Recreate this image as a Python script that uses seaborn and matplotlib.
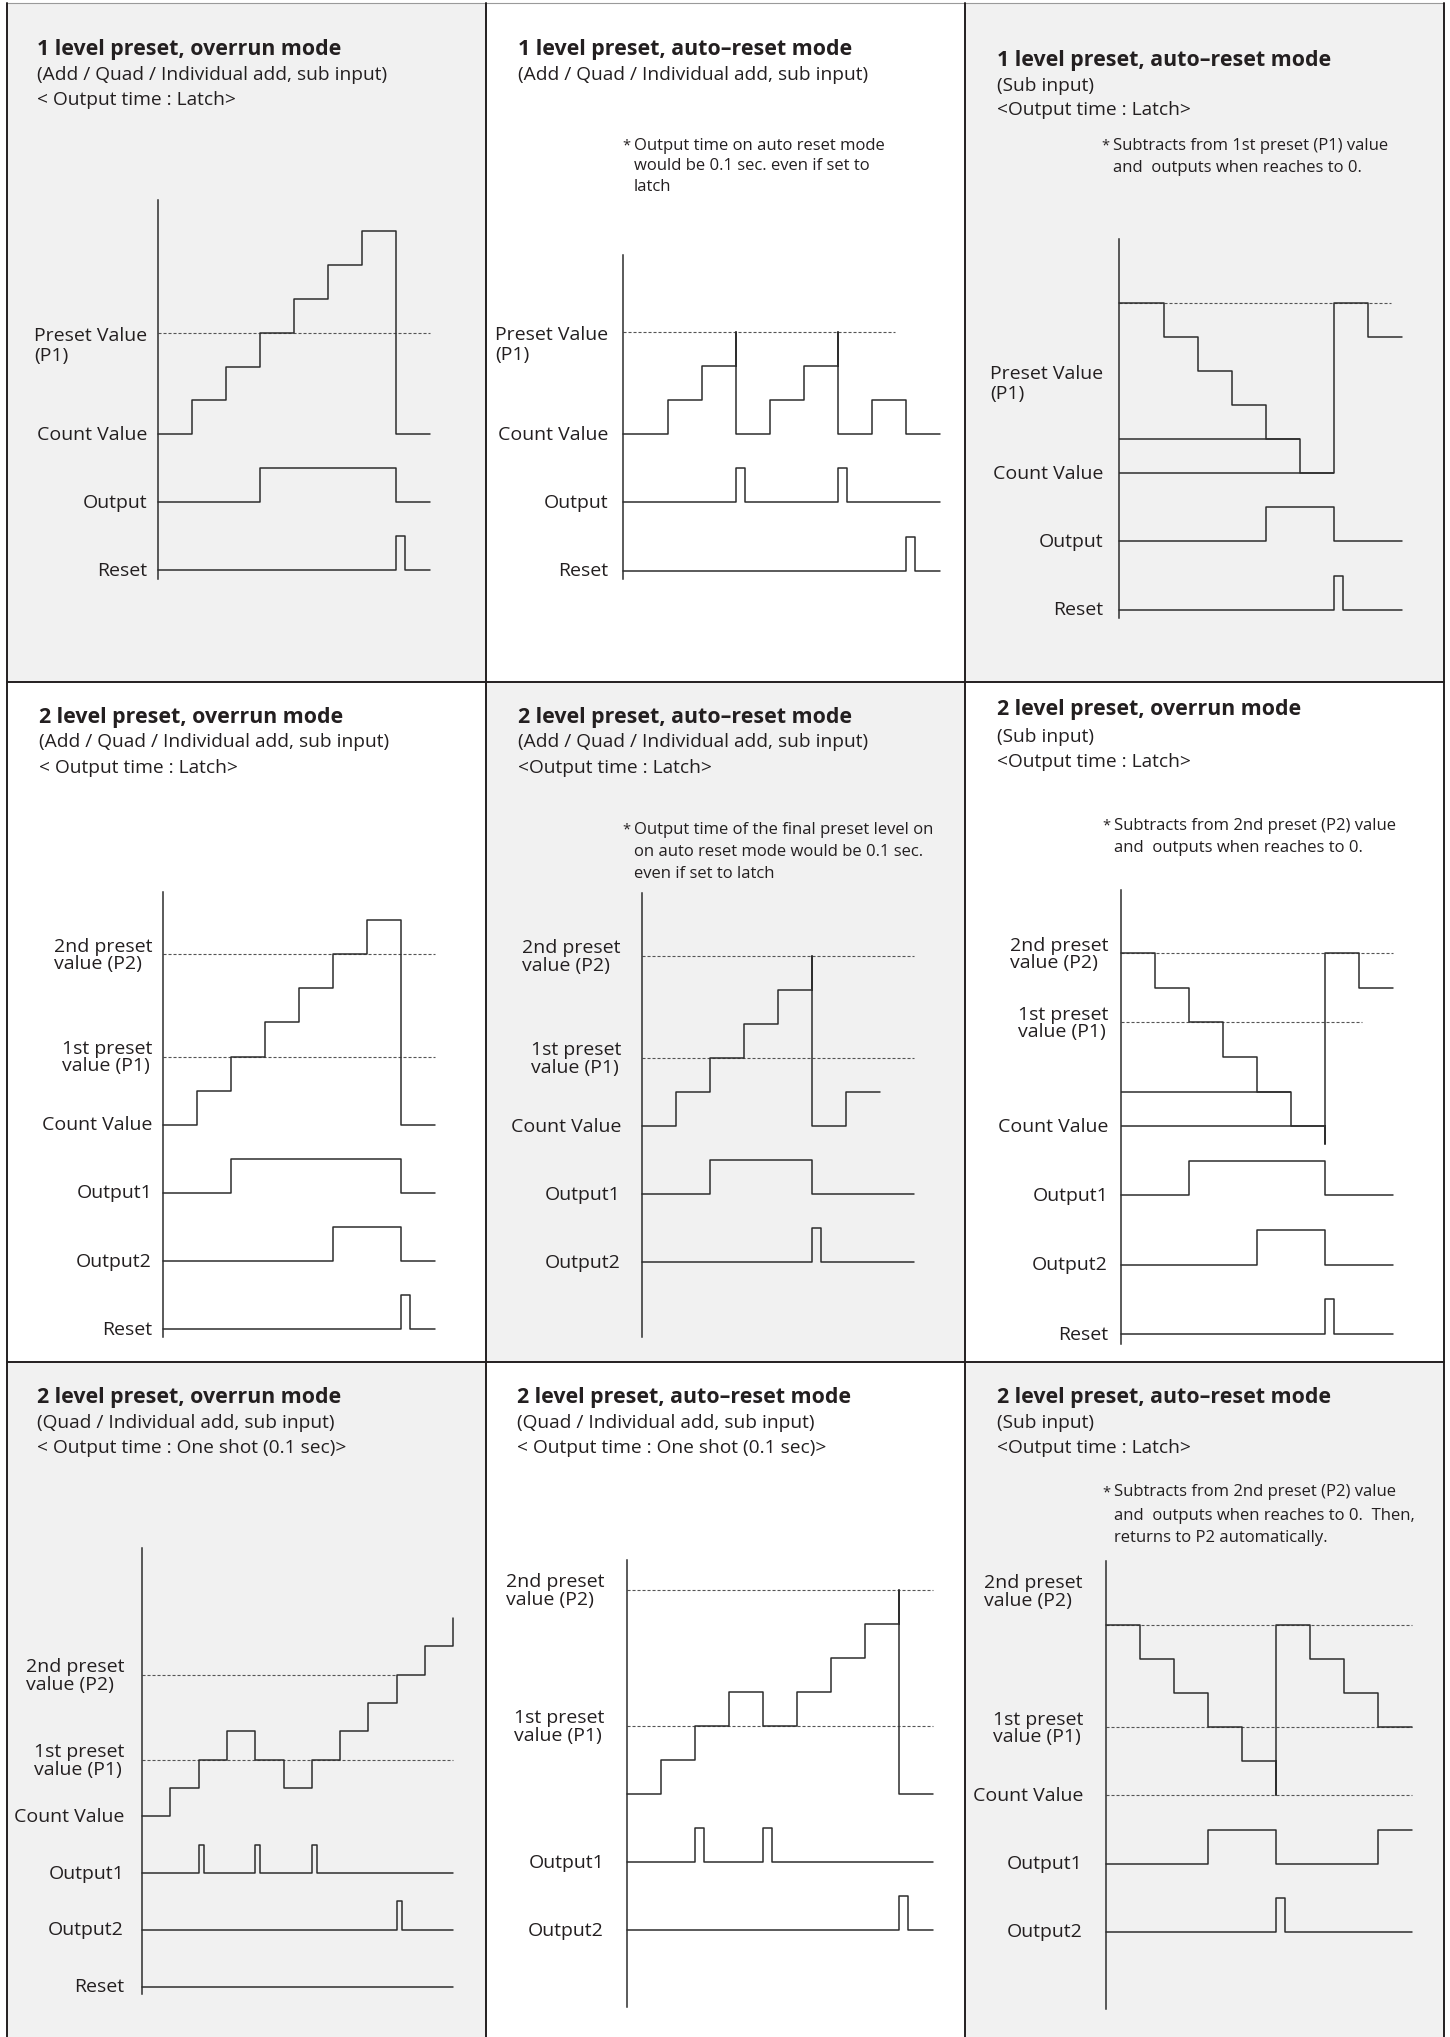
import matplotlib
matplotlib.use("Agg")
import matplotlib.pyplot as plt
from matplotlib.patches import Rectangle
from matplotlib.lines import Line2D
import seaborn as sns

W, H = 1450, 2037

# ---------- data: time (count steps) and level (count units) ----------
# 1) 1 level preset, overrun mode
p1_count_t = [0, 1, 2, 3, 4, 5, 6, 7, 8]
p1_count_v = [0, 1, 2, 3, 4, 5, 6, 0, 0]
p1_out_t = [0, 3, 7, 8]
p1_out_v = [0, 1, 0, 0]
p1_reset_t = [0, 7, 7.25, 8]
p1_reset_v = [0, 1, 0, 0]
p1_dashed = [3]
p1_dashed_end = [8]
p1_labels = ["Preset Value\n(P1)", "Count Value", "Output", "Reset"]
p1_label_lv = [3, 0, -2, -4]

# 2) 1 level preset, auto-reset mode
p2_count_t = [0, 1.33, 2.33, 3.33, 3.33, 4.33, 5.33, 6.33, 6.33, 7.33, 8.33, 9.32]
p2_count_v = [0, 1, 2, 3, 0, 1, 2, 3, 0, 1, 0, 0]
p2_out_t = [0, 3.33, 3.58, 6.33, 6.58, 9.32]
p2_out_v = [0, 1, 0, 1, 0, 0]
p2_reset_t = [0, 8.33, 8.58, 9.32]
p2_reset_v = [0, 1, 0, 0]
p2_dashed = [3]
p2_dashed_end = [8]
p2_labels = ["Preset Value\n(P1)", "Count Value", "Output", "Reset"]
p2_label_lv = [3, 0, -2, -4]

# 3) 1 level preset, auto-reset mode (sub input)
p3_count_t = [0, 1.33, 2.33, 3.33, 4.33, 5.33, 6.33, 7.33, 8.33]
p3_count_v = [5, 4, 3, 2, 1, 0, 5, 4, 4]
p3_out_t = [0, 4.33, 6.33, 8.33]
p3_out_v = [0, 1, 0, 0]
p3_reset_t = [0, 6.33, 6.58, 8.33]
p3_reset_v = [0, 1, 0, 0]
p3_guides = [1, 0]
p3_guide_end = [5.33, 6.33]
p3_dashed = [5]
p3_dashed_end = [8]
p3_labels = ["Preset Value\n(P1)", "Count Value", "Output", "Reset"]
p3_label_lv = [3, 0, -2, -4]

# 4) 2 level preset, overrun mode
p4_count_t = [0, 1, 2, 3, 4, 5, 6, 7, 8]
p4_count_v = [0, 1, 2, 3, 4, 5, 6, 0, 0]
p4_out1_t = [0, 2, 7, 8]
p4_out1_v = [0, 1, 0, 0]
p4_out2_t = [0, 5, 7, 8]
p4_out2_v = [0, 1, 0, 0]
p4_reset_t = [0, 7, 7.25, 8]
p4_reset_v = [0, 1, 0, 0]
p4_dashed = [5, 2]
p4_dashed_end = [8, 8]
p4_labels = ["2nd preset\nvalue (P2)", "1st preset\nvalue (P1)", "Count Value",
             "Output1", "Output2", "Reset"]
p4_label_lv = [5, 2, 0, -2, -4, -6]

# 5) 2 level preset, auto-reset mode
p5_count_t = [0, 1, 2, 3, 4, 5, 5, 6, 7]
p5_count_v = [0, 1, 2, 3, 4, 5, 0, 1, 1]
p5_out1_t = [0, 2, 5, 8]
p5_out1_v = [0, 1, 0, 0]
p5_out2_t = [0, 5, 5.25, 8]
p5_out2_v = [0, 1, 0, 0]
p5_dashed = [5, 2]
p5_dashed_end = [8, 8]
p5_labels = ["2nd preset\nvalue (P2)", "1st preset\nvalue (P1)", "Count Value",
             "Output1", "Output2"]
p5_label_lv = [5, 2, 0, -2, -4]

# 6) 2 level preset, overrun mode (sub input)
p6_count_t = [0, 1, 2, 3, 4, 5, 6, 6, 7, 8]
p6_count_v = [5, 4, 3, 2, 1, 0, -0.5, 5, 4, 4]
p6_out1_t = [0, 2, 6, 8]
p6_out1_v = [0, 1, 0, 0]
p6_out2_t = [0, 4, 6, 8]
p6_out2_v = [0, 1, 0, 0]
p6_reset_t = [0, 6, 6.25, 8]
p6_reset_v = [0, 1, 0, 0]
p6_guides = [1, 0]
p6_guide_end = [5, 6]
p6_dashed = [5, 3]
p6_dashed_end = [8, 7.1]
p6_labels = ["2nd preset\nvalue (P2)", "1st preset\nvalue (P1)", "Count Value",
             "Output1", "Output2", "Reset"]
p6_label_lv = [5, 3, 0, -2, -4, -6]

# 7) 2 level preset, overrun mode (one shot)
p7_count_t = [0, 1, 2, 3, 4, 5, 6, 7, 8, 9, 10, 11]
p7_count_v = [0, 1, 2, 3, 2, 1, 2, 3, 4, 5, 6, 7]
p7_out1_t = [0, 2, 2.18, 4, 4.18, 6, 6.18, 11]
p7_out1_v = [0, 1, 0, 1, 0, 1, 0, 0]
p7_out2_t = [0, 9, 9.18, 11]
p7_out2_v = [0, 1, 0, 0]
p7_reset_t = [0, 11]
p7_reset_v = [0, 0]
p7_dashed = [5, 2]
p7_dashed_end = [9, 11]
p7_labels = ["2nd preset\nvalue (P2)", "1st preset\nvalue (P1)", "Count Value",
             "Output1", "Output2", "Reset"]
p7_label_lv = [5, 2, 0, -2, -4, -6]

# 8) 2 level preset, auto-reset mode (one shot)
p8_count_t = [0, 1, 2, 3, 4, 5, 6, 7, 8, 8, 9]
p8_count_v = [0, 1, 2, 3, 2, 3, 4, 5, 6, 0, 0]
p8_out1_t = [0, 2, 2.25, 4, 4.25, 9]
p8_out1_v = [0, 1, 0, 1, 0, 0]
p8_out2_t = [0, 8, 8.25, 9]
p8_out2_v = [0, 1, 0, 0]
p8_dashed = [6, 2]
p8_dashed_end = [9, 9]
p8_labels = ["2nd preset\nvalue (P2)", "1st preset\nvalue (P1)", "Output1", "Output2"]
p8_label_lv = [6, 2, -2, -4]

# 9) 2 level preset, auto-reset mode (sub input)
p9_count_t = [0, 1, 2, 3, 4, 5, 5, 6, 7, 8, 9]
p9_count_v = [5, 4, 3, 2, 1, 0, 5, 4, 3, 2, 2]
p9_out1_t = [0, 3, 5, 8, 9]
p9_out1_v = [0, 1, 0, 1, 1]
p9_out2_t = [0, 5, 5.25, 9]
p9_out2_v = [0, 1, 0, 0]
p9_dashed = [5, 2, 0]
p9_dashed_end = [9, 9, 9]
p9_labels = ["2nd preset\nvalue (P2)", "1st preset\nvalue (P1)", "Count Value",
             "Output1", "Output2"]
p9_label_lv = [6, 2, 0, -2, -4]

titles = [
    ["1 level preset, overrun mode", "(Add / Quad / Individual add, sub input)", "< Output time : Latch>"],
    ["1 level preset, auto\u2013reset mode", "(Add / Quad / Individual add, sub input)"],
    ["1 level preset, auto\u2013reset mode", "(Sub input)", "<Output time : Latch>"],
    ["2 level preset, overrun mode", "(Add / Quad / Individual add, sub input)", "< Output time : Latch>"],
    ["2 level preset, auto\u2013reset mode", "(Add / Quad / Individual add, sub input)", "<Output time : Latch>"],
    ["2 level preset, overrun mode", "(Sub input)", "<Output time : Latch>"],
    ["2 level preset, overrun mode", "(Quad / Individual add, sub input)", "< Output time : One shot (0.1 sec)>"],
    ["2 level preset, auto\u2013reset mode", "(Quad / Individual add, sub input)", "< Output time : One shot (0.1 sec)>"],
    ["2 level preset, auto\u2013reset mode", "(Sub input)", "<Output time : Latch>"],
]
notes = [
    [],
    ["Output time on auto reset mode", "would be 0.1 sec. even if set to", "latch"],
    ["Subtracts from 1st preset (P1) value", "and  outputs when reaches to 0."],
    [],
    ["Output time of the final preset level on", "on auto reset mode would be 0.1 sec.", "even if set to latch"],
    ["Subtracts from 2nd preset (P2) value", "and  outputs when reaches to 0."],
    [],
    [],
    ["Subtracts from 2nd preset (P2) value", "and  outputs when reaches to 0.  Then,",
     "returns to P2 automatically."],
]

panels = [
    dict(sig=[(p1_count_t, p1_count_v), (p1_out_t, p1_out_v), (p1_reset_t, p1_reset_v)],
         dashed=list(zip(p1_dashed, p1_dashed_end)), guides=[],
         labels=list(zip(p1_labels, p1_label_lv))),
    dict(sig=[(p2_count_t, p2_count_v), (p2_out_t, p2_out_v), (p2_reset_t, p2_reset_v)],
         dashed=list(zip(p2_dashed, p2_dashed_end)), guides=[],
         labels=list(zip(p2_labels, p2_label_lv))),
    dict(sig=[(p3_count_t, p3_count_v), (p3_out_t, p3_out_v), (p3_reset_t, p3_reset_v)],
         dashed=list(zip(p3_dashed, p3_dashed_end)), guides=list(zip(p3_guides, p3_guide_end)),
         labels=list(zip(p3_labels, p3_label_lv))),
    dict(sig=[(p4_count_t, p4_count_v), (p4_out1_t, p4_out1_v), (p4_out2_t, p4_out2_v),
              (p4_reset_t, p4_reset_v)],
         dashed=list(zip(p4_dashed, p4_dashed_end)), guides=[],
         labels=list(zip(p4_labels, p4_label_lv))),
    dict(sig=[(p5_count_t, p5_count_v), (p5_out1_t, p5_out1_v), (p5_out2_t, p5_out2_v)],
         dashed=list(zip(p5_dashed, p5_dashed_end)), guides=[],
         labels=list(zip(p5_labels, p5_label_lv))),
    dict(sig=[(p6_count_t, p6_count_v), (p6_out1_t, p6_out1_v), (p6_out2_t, p6_out2_v),
              (p6_reset_t, p6_reset_v)],
         dashed=list(zip(p6_dashed, p6_dashed_end)), guides=list(zip(p6_guides, p6_guide_end)),
         labels=list(zip(p6_labels, p6_label_lv))),
    dict(sig=[(p7_count_t, p7_count_v), (p7_out1_t, p7_out1_v), (p7_out2_t, p7_out2_v),
              (p7_reset_t, p7_reset_v)],
         dashed=list(zip(p7_dashed, p7_dashed_end)), guides=[],
         labels=list(zip(p7_labels, p7_label_lv))),
    dict(sig=[(p8_count_t, p8_count_v), (p8_out1_t, p8_out1_v), (p8_out2_t, p8_out2_v)],
         dashed=list(zip(p8_dashed, p8_dashed_end)), guides=[],
         labels=list(zip(p8_labels, p8_label_lv))),
    dict(sig=[(p9_count_t, p9_count_v), (p9_out1_t, p9_out1_v), (p9_out2_t, p9_out2_v)],
         dashed=list(zip(p9_dashed, p9_dashed_end)), guides=[],
         labels=list(zip(p9_labels, p9_label_lv))),
]

# ---------- layout (pixels) ----------
# dym: baseline offset of the last line of a two-line label, ls: its line spacing
ONE = dict(dym=-28.2, ls=1.16)
TWO = dict(dym=-14.9, ls=0.97)
layout = [
    dict(axis_x=158, base_y=434.3, ux=34, uy=33.9, ytop=6.92, ybot=-4.27, gap=11, tx=37,
         ty=[55.5, 80.2, 105.3], ny=[], **ONE),
    dict(axis_x=623, base_y=434.3, ux=34, uy=34.07, ytop=5.27, ybot=-4.25, gap=15, tx=518,
         ty=[55.5, 80.2], nx=622, ny=[149.5, 170.4, 191.2], **ONE),
    dict(axis_x=1119, base_y=473.3, ux=34, uy=34.07, ytop=6.87, ybot=-4.24, gap=16, tx=997,
         ty=[65.9, 91, 114.8], nx=1101, ny=[149.5, 172.2], **ONE),
    dict(axis_x=163, base_y=1124.7, ux=34, uy=34.07, ytop=6.83, ybot=-6.22, gap=11, tx=39,
         ty=[722.5, 747.2, 773.2], ny=[], **TWO),
    dict(axis_x=642, base_y=1126, ux=34, uy=34.07, ytop=6.83, ybot=-6.18, gap=21, tx=518,
         ty=[722.5, 747.2, 773.2], nx=622, ny=[833.8, 855.5, 878], **TWO),
    dict(axis_x=1121, base_y=1126.3, ux=34, uy=34.6, ytop=6.84, ybot=-6.28, gap=13, tx=997,
         ty=[714.7, 741.5, 766.7], nx=1102, ny=[829.5, 852], **TWO),
    dict(axis_x=142, base_y=1816.4, ux=28.3, uy=28.35, ytop=9.45, ybot=-6.27, gap=18, tx=37,
         ty=[1402.5, 1428.5, 1453.2], ny=[], **TWO),
    dict(axis_x=627, base_y=1794.2, ux=34, uy=34.07, ytop=6.87, ybot=-6.26, gap=23, tx=517,
         ty=[1402.5, 1428.5, 1453.2], ny=[], **TWO),
    dict(axis_x=1106, base_y=1795.5, ux=34, uy=34.07, ytop=6.87, ybot=-6.26, gap=23, tx=997,
         ty=[1402.5, 1428, 1453.2], nx=1102, ny=[1496.5, 1520.3, 1542], **TWO),
]

col_x = [7, 486, 965, 1444]
row_y = [3, 682, 1362, 2037]

TXT = "#231f20"
LINE = "#2e2e2e"
DASH = "#555555"
GRAY = "#f1f1f1"
FS_TITLE, FS_SUB, FS_LABEL, FS_NOTE = 15.4, 13.8, 14, 12

sns.set_theme(style="white")
plt.rcParams["font.family"] = ["Open Sans", "DejaVu Sans"]
plt.rcParams["lines.scale_dashes"] = False

fig = plt.figure(figsize=(W / 100, H / 100), dpi=100)
fig.patch.set_facecolor("white")


def fx(x):
    return x / W


def fy(y):
    return 1 - y / H


# panel backgrounds (checkerboard) and frame lines
for r in range(3):
    for c in range(3):
        fc = GRAY if (r + c) % 2 == 0 else "white"
        fig.add_artist(Rectangle((fx(col_x[c]), fy(row_y[r + 1])),
                                 (col_x[c + 1] - col_x[c]) / W, (row_y[r + 1] - row_y[r]) / H,
                                 transform=fig.transFigure, facecolor=fc, edgecolor="none",
                                 zorder=-10))
fig.add_artist(Line2D([fx(col_x[0]), fx(col_x[-1])], [fy(row_y[0])] * 2,
                      transform=fig.transFigure, color="#9a9a9a", lw=0.8, zorder=5))
for x in col_x:
    fig.add_artist(Line2D([fx(x)] * 2, [fy(row_y[0]), fy(row_y[-1])],
                          transform=fig.transFigure, color=TXT, lw=1.4, zorder=5))
for y in row_y[1:3]:
    fig.add_artist(Line2D([fx(col_x[0]), fx(col_x[-1])], [fy(y)] * 2,
                          transform=fig.transFigure, color=TXT, lw=1.4, zorder=5))

for k, (spec, lay) in enumerate(zip(panels, layout)):
    ux, uy = lay["ux"], lay["uy"]
    xr = 11.3 if k == 6 else 9.5
    left = lay["axis_x"] / W
    bottom = fy(lay["base_y"] - lay["ybot"] * uy)
    ax = fig.add_axes([left, bottom, xr * ux / W, (lay["ytop"] - lay["ybot"]) * uy / H])
    ax.patch.set_visible(False)

    for lv, end in spec["dashed"]:
        ax.hlines(lv, 0, end, colors=DASH, linewidth=0.8, linestyles=(0, (2.2, 1.4)), zorder=1)
    for lv, end in spec["guides"]:
        ax.hlines(lv, 0, end, colors=LINE, linewidth=1.1, zorder=2)

    for i, (t, v) in enumerate(spec["sig"]):
        y = [val - 2 * i for val in v]
        sns.lineplot(x=t, y=y, ax=ax, estimator=None, sort=False, drawstyle="steps-post",
                     color=LINE, linewidth=1.1, clip_on=False, zorder=3)

    ax.set_xlim(0, xr)
    ax.set_ylim(lay["ybot"], lay["ytop"])
    ax.set_xticks([])
    ax.set_yticks([])
    ax.set(xlabel="", ylabel="")
    sns.despine(ax=ax, left=False, bottom=True)
    ax.spines["left"].set_color(LINE)
    ax.spines["left"].set_linewidth(1.1)

    for txt, lv in spec["labels"]:
        dy = lay["dym"] if "\n" in txt else -5.6
        ax.annotate(txt, xy=(0, lv), xycoords="data", xytext=(-lay["gap"], dy),
                    textcoords="offset pixels", ha="right", va="baseline",
                    multialignment="left", linespacing=lay["ls"], fontsize=FS_LABEL,
                    color=TXT, annotation_clip=False)

    # heading block
    for j, line in enumerate(titles[k]):
        fig.text(fx(lay["tx"]), fy(lay["ty"][j]), line, ha="left", va="baseline",
                 fontsize=FS_TITLE if j == 0 else FS_SUB,
                 fontweight="bold" if j == 0 else "normal", color=TXT)
    if notes[k]:
        fig.text(fx(lay["nx"]), fy(lay["ny"][0]), "*", ha="left", va="baseline",
                 fontsize=10.5, color=TXT)
        for j, line in enumerate(notes[k]):
            fig.text(fx(lay["nx"] + 12), fy(lay["ny"][j]), line, ha="left", va="baseline",
                     fontsize=FS_NOTE, color=TXT)

fig.savefig("out.png", dpi=100)
